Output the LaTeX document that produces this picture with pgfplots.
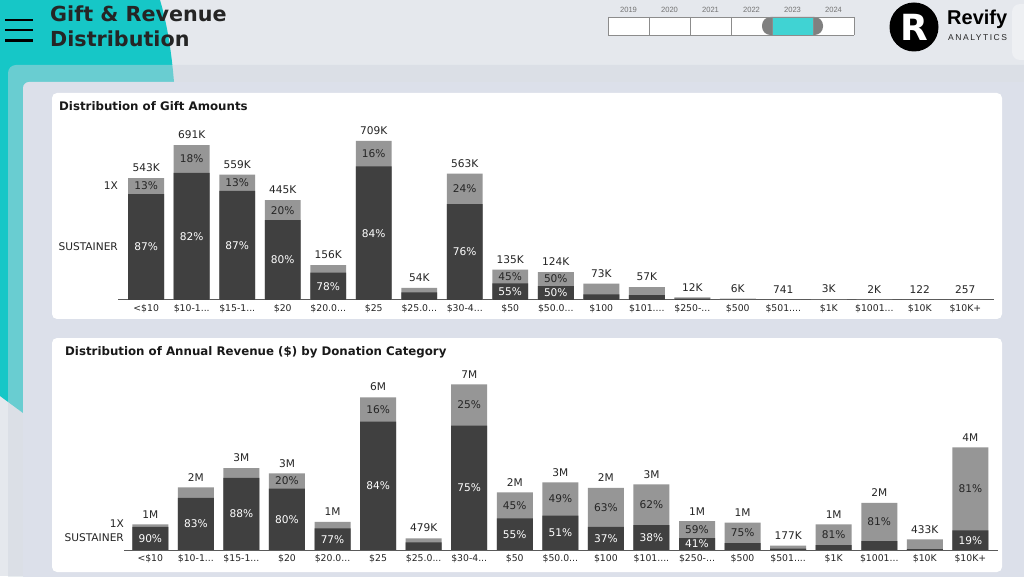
\documentclass[border=0pt]{standalone}
\usepackage{pgfplots}
\pgfplotsset{compat=1.18}
\usepackage{pgfplotstable}
\usepackage{fontspec}
\setmainfont{DejaVu Sans}
\newfontfamily\arial{Liberation Sans}
\newfontfamily\arialspaced[LetterSpace=18]{Liberation Sans}
\definecolor{bgc}{HTML}{E5E8ED}
\definecolor{teal1}{HTML}{16C7C7}
\definecolor{ovl}{HTML}{CFD6DE}
\definecolor{innerp}{HTML}{DCE0EA}
\definecolor{darkbar}{HTML}{404040}
\definecolor{lightbar}{HTML}{969696}
\definecolor{txt}{HTML}{252525}
\definecolor{slider}{HTML}{40D3D3}
\definecolor{axisc}{HTML}{5A5A5A}
\newcommand{\ddd}{.\kern0pt.\kern0pt.}

% gift amounts (thousands); pct = SUSTAINER share
\pgfplotstableread{
x tot pct dl ll lab
0 543 87 1 1 543K
1 691 82 1 1 691K
2 559 87 1 1 559K
3 445 80 1 1 445K
4 156 78 1 0 156K
5 709 84 1 1 709K
6 54 62 0 0 54K
7 563 76 1 1 563K
8 135 55 1 1 135K
9 124 50 1 1 124K
10 73 35 0 0 73K
11 57 38 0 0 57K
12 12 50 0 0 12K
13 6 50 0 0 6K
14 0.741 50 0 0 741
15 3 50 0 0 3K
16 2 50 0 0 2K
17 0.122 50 0 0 122
18 0.257 50 0 0 257
}\gifts

% annual revenue (millions)
\pgfplotstableread{
x tot pct dl ll lab
0 1.05 90 1 0 1M
1 2.57 83 1 0 2M
2 3.36 88 1 0 3M
3 3.14 80 1 1 3M
4 1.15 77 1 0 1M
5 6.26 84 1 1 6M
6 0.479 66 0 0 479K
7 6.79 75 1 1 7M
8 2.36 55 1 1 2M
9 2.77 51 1 1 3M
10 2.55 37 1 1 2M
11 2.69 38 1 1 3M
12 1.18 41 1 1 1M
13 1.12 25 0 1 1M
14 0.177 30 0 0 177K
15 1.05 19 0 1 1M
16 1.93 19 0 1 2M
17 0.433 8 0 0 433K
18 4.21 19 1 1 4M
}\revenue

\tikzset{lbl/.style={font=\fontsize{10.6}{12}\selectfont, inner sep=0pt}}
\pgfplotsset{
  distchart/.style={
    scale only axis, anchor=south west, clip=false,
    ymin=0,
    axis x line=bottom, axis y line=none,
    axis line style={-, draw=axisc, line width=1pt},
    xtick={0,1,2,3,4,5,6,7,8,9,10,11,12,13,14,15,16,17,18},
    xticklabels={{<\$10},{\$10-1\ddd},{\$15-1\ddd},{\$20},{\$20.0\ddd},{\$25},{\$25.0\ddd},{\$30-4\ddd},{\$50},{\$50.0\ddd},{\$100},{\$101.\ddd},{\$250-\ddd},{\$500},{\$501.\ddd},{\$1K},{\$1001\ddd},{\$10K},{\$10K+}},
    major tick length=0pt, ytick=\empty,
    xticklabel style={font=\fontsize{9.3}{10}\selectfont, text=txt, yshift=-0.5pt},
    /pgf/number format/assume math mode=true,
  },
}

\newcommand{\drawchart}[1]{%
  \addplot[ybar, bar shift=0pt, bar width=0.79, fill=lightbar, draw=none] table[x=x,y=tot]{#1};
  \addplot[ybar, bar shift=0pt, bar width=0.79, fill=darkbar, draw=none] table[x=x,y expr=\thisrow{tot}*\thisrow{pct}/100]{#1};
  % totals
  \addplot[draw=none, mark=none, nodes near coords, point meta=explicit symbolic,
    nodes near coords style={lbl, anchor=south, yshift=6pt, text=txt}]
    table[x=x, y=tot, meta=lab]{#1};
  % sustainer share labels
  \addplot[draw=none, mark=none, restrict y to domain=0:100000,
    point meta=\thisrow{pct},
    nodes near coords={\pgfmathprintnumber[fixed,precision=0,assume math mode=true]{\pgfplotspointmeta}\%},
    nodes near coords style={lbl, anchor=center, text=white}]
    table[x=x, y expr={\thisrow{dl}>0 ? \thisrow{tot}*\thisrow{pct}/200 : -1}]{#1};
  % 1X share labels
  \addplot[draw=none, mark=none, restrict y to domain=0:100000,
    point meta={100-\thisrow{pct}},
    nodes near coords={\pgfmathprintnumber[fixed,precision=0,assume math mode=true]{\pgfplotspointmeta}\%},
    nodes near coords style={lbl, anchor=center, text=txt}]
    table[x=x, y expr={\thisrow{ll}>0 ? \thisrow{tot}*(100+\thisrow{pct})/200 : -1}]{#1};
}

\begin{document}
\begin{tikzpicture}[x=1pt,y=1pt]
\useasboundingbox (0,0) rectangle (1024,576);
\clip (0,0) rectangle (1024,576);
% background
\fill[bgc] (0,0) rectangle (1024,576);
\fill[teal1] (0,576) -- (160,576) .. controls (166,556) and (171,530) .. (174,494) -- (174,470) -- (23,163) -- (0,180) -- cycle;
\fill[white, opacity=0.35, rounded corners=8] (1012,572) rectangle (1060,516);
\fill[ovl, opacity=0.45, rounded corners=8] (8,511) rectangle (1060,-30);
\fill[innerp, rounded corners=6] (23,494) rectangle (1060,-30);
\fill[white, rounded corners=5] (52,483) rectangle (1002,257);
\fill[white, rounded corners=5] (52,238) rectangle (1002,4);

% hamburger
\foreach \yy in {20,30,40.5} {\draw[black, line width=2.6pt] (5,576-\yy) -- (33,576-\yy);}
% title
\node[anchor=base west, inner sep=0pt, text=txt, font=\bfseries\fontsize{20.7}{22}\selectfont] at (50,554) {Gift \& Revenue};
\node[anchor=base west, inner sep=0pt, text=txt, font=\bfseries\fontsize{20.7}{22}\selectfont] at (50,529.3) {Distribution};

% year slider
\foreach \i/\yr in {0/2019,1/2020,2/2021,3/2022,4/2023,5/2024} {
  \fill[white] (608+41*\i,559) rectangle ++(41,-18);
  \node[font=\arial\fontsize{7.6}{8}\selectfont, text=black!55, inner sep=0pt] at (628.5+41*\i,566.5) {\yr};
}
\fill[black!50, rounded corners=8.5] (762,559) rectangle (823,541);
\fill[slider] (772,559) rectangle (813,541);
\foreach \i in {0,...,6} {\draw[black!45, line width=0.8pt] (608+41*\i,559) -- (608+41*\i,541);}
\draw[black!45, line width=0.8pt] (608,559) -- (854,559) (608,541) -- (854,541);

% logo
\fill[black] (914,549) circle (24.5);
\node[text=white, font=\bfseries\fontsize{36}{36}\selectfont, inner sep=0pt] at (914,549) {R};
\node[anchor=base west, inner sep=0pt, font=\arial\bfseries\fontsize{20}{22}\selectfont] at (947,551) {Revify};
\node[anchor=base west, inner sep=0pt, text=txt, font=\arialspaced\fontsize{8.5}{9}\selectfont] at (948,535.5) {ANALYTICS};

% card titles
\node[anchor=base west, inner sep=0pt, text=black!90, font=\bfseries\fontsize{11.8}{13}\selectfont] at (59,465) {Distribution of Gift Amounts};
\node[anchor=base west, inner sep=0pt, text=black!90, font=\bfseries\fontsize{11.8}{13}\selectfont] at (65,220.7) {Distribution of Annual Revenue (\$) by Donation Category};

% top chart
\begin{axis}[distchart, at={(118pt,276pt)}, width=876pt, height=180pt,
  xmin=-0.62, xmax=18.63, ymax=802.5]
  \drawchart{\gifts}
  \node[lbl, anchor=east, text=txt] at (axis cs:-0.62,507.7) {1X};
  \node[lbl, anchor=east, text=txt] at (axis cs:-0.62,236.2) {SUSTAINER};
\end{axis}

% bottom chart
\begin{axis}[distchart, at={(124pt,26pt)}, width=873.7pt, height=180pt,
  xmin=-0.577, xmax=18.6, ymax=7.377]
  \drawchart{\revenue}
  \node[lbl, anchor=east, text=txt] at (axis cs:-0.577,1.066) {1X};
  \node[lbl, anchor=east, text=txt] at (axis cs:-0.577,0.49) {SUSTAINER};
\end{axis}
\end{tikzpicture}
\end{document}
